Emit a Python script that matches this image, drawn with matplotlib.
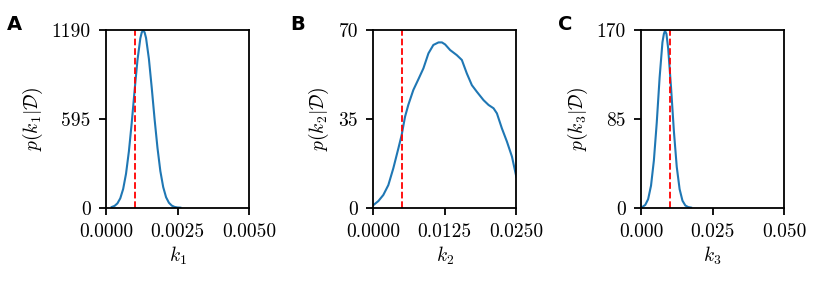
import matplotlib as mpl
mpl.use('Agg')
import matplotlib.pyplot as plt

plt.rcParams['font.family'] = 'serif'
plt.rcParams['font.serif'] = ['cmr10']
plt.rcParams['mathtext.fontset'] = 'cm'
plt.rcParams['axes.unicode_minus'] = False
plt.rcParams['font.size'] = 14

# posterior of k1
k1 = [0.0002, 0.0003, 0.0004, 0.0005, 0.0006, 0.0007, 0.0008, 0.0009, 0.0010,
      0.0011, 0.0012, 0.00125, 0.0013, 0.00135, 0.0014, 0.0015, 0.0016, 0.0017,
      0.0018, 0.0019, 0.0020, 0.0021, 0.0022, 0.0023, 0.0024, 0.0025, 0.0026]
p1 = [4.6, 12, 29, 63, 125, 227, 376, 568, 784,
      986, 1132, 1172, 1185, 1172, 1135, 995, 800, 590,
      400, 245, 138, 70, 33, 14, 5, 1.5, 0.4]

# posterior of k2
k2 = [0.0, 0.00088, 0.00175, 0.00263, 0.0035, 0.00438, 0.00496, 0.00555, 0.00613,
      0.0070, 0.00788, 0.00876, 0.00964, 0.0105, 0.0114, 0.0120, 0.01256, 0.01343,
      0.0146, 0.01548, 0.01635, 0.01723, 0.0181, 0.01927, 0.02015, 0.02102,
      0.02161, 0.02248, 0.02336, 0.02424, 0.0250]
p2 = [1.0, 2.6, 5.0, 8.9, 15.5, 23.3, 28.6, 35.8, 40.5,
      46.3, 50.5, 54.8, 60.7, 64.0, 65.0, 65.0, 64.2, 62.0,
      60.0, 58.1, 52.8, 48.2, 45.6, 42.3, 40.4, 39.1,
      37.1, 31.2, 26.0, 20.1, 12.2]

# posterior of k3
k3 = [0.0005, 0.0015, 0.0025, 0.0035, 0.0045, 0.0055, 0.0065, 0.0075, 0.0080,
      0.0084, 0.0089, 0.0095, 0.0105, 0.0115, 0.0125, 0.0135, 0.0145, 0.0155,
      0.0165, 0.0175]
p3 = [0.75, 2.7, 8.2, 21, 45, 81, 124, 158, 166,
      169, 166, 152, 115, 73, 39, 17.7, 6.7, 2.1,
      0.6, 0.1]

true_k = [0.001, 0.005, 0.01]
ymax = [1190, 70, 170]
yticklabels = [['0', '595', '1190'], ['0', '35', '70'], ['0', '85', '170']]
xmax = [0.005, 0.025, 0.05]
xticklabels = [['0.0000', '0.0025', '0.0050'],
               ['0.0000', '0.0125', '0.0250'],
               ['0.000', '0.025', '0.050']]
panel = ['A', 'B', 'C']

fig = plt.figure(figsize=(8.3, 2.91), dpi=100, facecolor='w')
lefts = [106 / 830, 373.3 / 830, 641 / 830]
label_x = [7 / 830, 290 / 830, 558 / 830]
data = [(k1, p1), (k2, p2), (k3, p3)]

for i in range(3):
    ax = fig.add_axes([lefts[i], 83.3 / 291, 143 / 830, 178 / 291])
    xs, ys = data[i]
    ax.plot(xs, ys, color='#1f77b4', lw=1.5)
    ax.axvline(true_k[i], color='red', ls='--', lw=1.3)
    ax.set_xlim(0, xmax[i])
    ax.set_ylim(0, ymax[i])
    ax.set_xticks([0, xmax[i] / 2, xmax[i]])
    ax.set_xticklabels(xticklabels[i])
    ax.set_yticks([0, ymax[i] / 2, ymax[i]])
    ax.set_yticklabels(yticklabels[i])
    for s in ax.spines.values():
        s.set_linewidth(1.3)
    ax.tick_params(direction='out', length=5, width=1.3, labelsize=14, pad=6)
    ax.set_xlabel(r'$k_{%d}$' % (i + 1), fontsize=14, labelpad=3)
    ax.set_ylabel(r'$p(k_{%d}|\mathcal{D})$' % (i + 1), fontsize=14, labelpad=5)
    fig.text(label_x[i], 1 - 30 / 291, panel[i], fontsize=14, fontweight='bold',
             family='DejaVu Sans')

plt.savefig('out.png', dpi=100)
